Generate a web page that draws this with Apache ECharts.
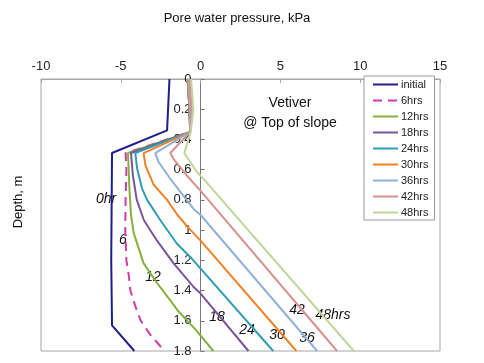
<!DOCTYPE html>
<html>
<head>
<meta charset="utf-8">
<script src="https://cdn.jsdelivr.net/npm/echarts@6/dist/echarts.min.js"></script>
<style>
html,body{margin:0;padding:0;background:#fff;}
#chart{width:484px;height:363px;}
</style>
</head>
<body>
<div id="chart"></div>
<script>
// pore water pressure (kPa) vs depth (m)
var names = ['initial','6hrs','12hrs','18hrs','24hrs','30hrs','36hrs','42hrs','48hrs'];
var xTicks = [-10, 15, 5];   // min, max, step
var yTicks = [0, 1.8, 0.2];

var sInit = [[-1.95,0],[-2.1,0.34],[-5.55,0.49],[-5.6,1.2],[-5.55,1.63],[-4.15,1.8]];
var s6  = [[-0.8,0],[-0.7,0.2],[-0.65,0.35],[-4.7,0.49],[-4.65,0.6],[-4.7,0.8],[-4.72,1.0],[-4.65,1.2],[-4.5,1.3],[-4.4,1.4],[-4.1,1.5],[-3.75,1.6],[-3.1,1.7],[-2.25,1.8]];
var s12 = [[-0.8,0],[-0.7,0.2],[-0.65,0.35],[-4.55,0.49],[-4.45,0.75],[-4.36,0.9],[-4.19,1.02],[-3.57,1.22],[-2.73,1.35],[-1.9,1.465],[-1.45,1.53],[-0.3,1.66],[0.8,1.8]];
var s18 = [[-0.8,0],[-0.7,0.2],[-0.65,0.35],[-4.36,0.49],[-4.24,0.64],[-4.0,0.8],[-3.55,0.935],[-2.73,1.07],[-1.69,1.22],[-0.44,1.376],[0,1.42],[3.0,1.8]];
var s24 = [[-0.8,0],[-0.7,0.2],[-0.65,0.35],[-4.09,0.49],[-3.98,0.59],[-3.67,0.725],[-3.35,0.8],[-2.52,0.935],[-1.48,1.09],[-0.54,1.19],[0,1.255],[4.55,1.8]];
var s30 = [[-0.8,0],[-0.7,0.2],[-0.65,0.35],[-3.57,0.49],[-3.46,0.57],[-2.94,0.70],[-2.1,0.80],[-1.45,0.90],[-0.8,0.98],[0,1.07],[6.0,1.8]];
var s36 = [[-0.75,0],[-0.65,0.2],[-0.65,0.35],[-2.84,0.49],[-2.63,0.55],[-1.9,0.66],[-1.17,0.76],[-0.44,0.86],[0,0.9],[7.3,1.8]];
var s42 = [[-0.7,0],[-0.55,0.2],[-0.65,0.35],[-1.9,0.49],[-1.69,0.53],[-0.85,0.64],[0,0.74],[8.55,1.8]];
var s48 = [[-0.6,0],[-0.45,0.2],[-0.62,0.35],[-1.02,0.49],[-0.23,0.615],[0,0.64],[9.6,1.8]];

var allData = [sInit, s6, s12, s18, s24, s30, s36, s42, s48];
var colors = ['#1f1f8a','#cc3ea6','#86b03c','#7a559e','#2f9db3','#ef8226','#92b0d8','#d8908e','#bfd69a'];

var myChart = echarts.init(document.getElementById('chart'));

var series = [];
for (var i = 0; i < names.length; i++) {
    series.push({
        name: names[i],
        type: 'line',
        symbol: 'none',
        data: allData[i],
        lineStyle: {
            color: colors[i],
            width: 2,
            type: i == 1 ? [9, 6] : 'solid'
        },
        itemStyle: {color: colors[i]}
    });
}

function txt(s, x, y, size, italic) {
    return {
        type: 'text', x: x, y: y,
        style: {
            text: s, fill: '#111',
            font: (italic ? 'italic ' : '') + size + 'px "Liberation Sans", Arial, sans-serif',
            textAlign: 'center', textVerticalAlign: 'middle'
        }
    };
}

var option = {
    animation: false,
    grid: {
        left: 41, right: 44, top: 79, bottom: 12,
        show: true, borderColor: '#a6a6a6', borderWidth: 1
    },
    legend: {
        data: names,
        orient: 'vertical',
        left: 364, top: 76,
        padding: [3, 6, 2, 8],
        itemWidth: 25, itemHeight: 10, itemGap: 5,
        itemStyle: {opacity: 0},
        backgroundColor: '#fff',
        borderColor: '#999', borderWidth: 1,
        textStyle: {fontSize: 11, color: '#222', padding: [0, 0, 0, -2], fontFamily: '"Liberation Sans", Arial, sans-serif'}
    },
    xAxis: {
        type: 'value', position: 'top',
        min: xTicks[0], max: xTicks[1], interval: xTicks[2],
        axisLine: {onZero: false, lineStyle: {color: '#a6a6a6'}},
        axisTick: {inside: true, length: 4, lineStyle: {color: '#a6a6a6'}},
        axisLabel: {color: '#222', fontSize: 13, margin: 6, fontFamily: '"Liberation Sans", Arial, sans-serif'},
        splitLine: {show: false}
    },
    yAxis: {
        type: 'value', inverse: true, position: 'left',
        offset: -159.6,   // sits on pressure = 0
        min: yTicks[0], max: yTicks[1], interval: yTicks[2],
        axisLine: {onZero: false, lineStyle: {color: '#777'}},
        axisTick: {inside: true, length: 4, lineStyle: {color: '#777'}},
        axisLabel: {color: '#222', fontSize: 13, margin: 9, fontFamily: '"Liberation Sans", Arial, sans-serif'},
        splitLine: {show: false}
    },
    graphic: [
        txt('Pore water pressure, kPa', 237, 18, 13, false),
        {
            type: 'text', x: 18, y: 202, rotation: Math.PI / 2,
            style: {text: 'Depth, m', fill: '#111', font: '13px "Liberation Sans", Arial, sans-serif',
                textAlign: 'center', textVerticalAlign: 'middle'}
        },
        txt('Vetiver', 290, 103, 14, false),
        txt('@ Top of slope', 290, 123, 14, false),
        txt('0hr', 106, 199, 14, true),
        txt('6', 123, 240, 14, true),
        txt('12', 153, 277, 14, true),
        txt('18', 217, 317, 14, true),
        txt('24', 247, 330, 14, true),
        txt('30', 277, 335, 14, true),
        txt('36', 307, 338, 14, true),
        txt('42', 297, 310, 14, true),
        txt('48hrs', 333, 315, 14, true)
    ],
    series: series
};
myChart.setOption(option);
</script>
</body>
</html>
